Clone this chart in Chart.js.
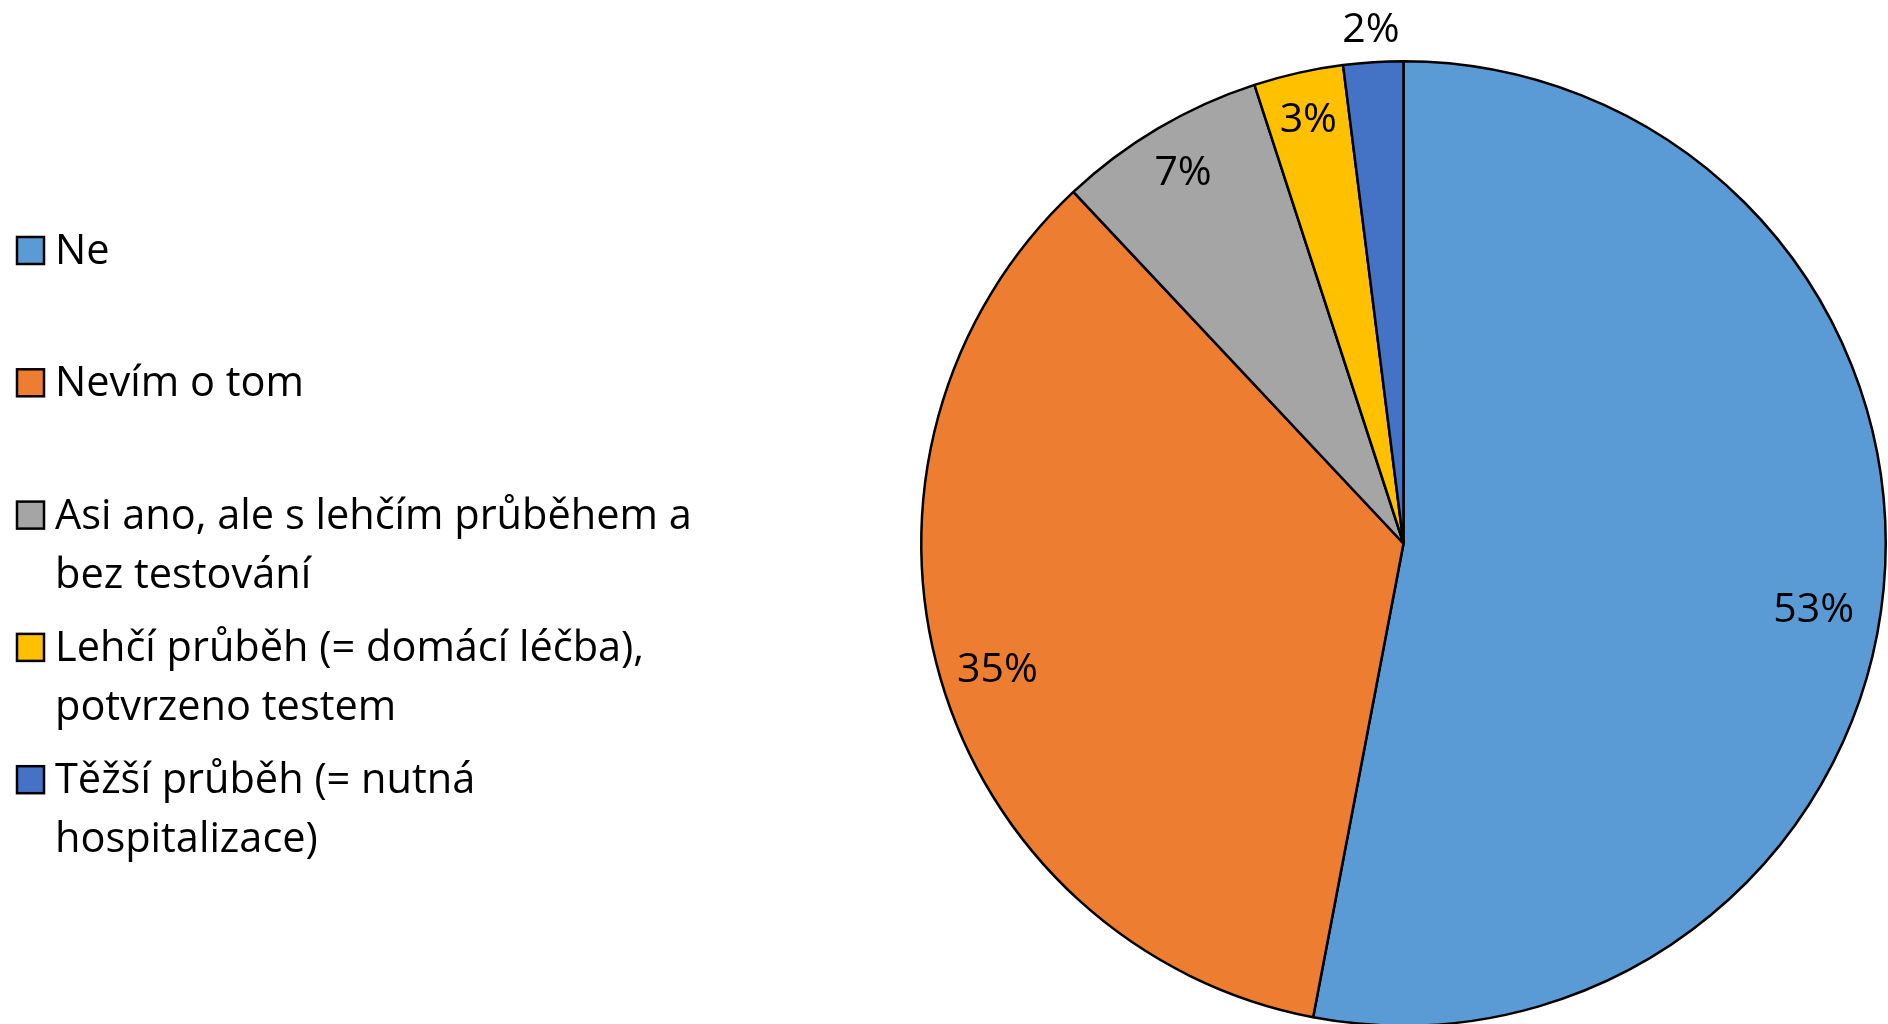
<!DOCTYPE html>
<html lang="cs">
<head>
<meta charset="utf-8">
<script src="https://cdn.jsdelivr.net/npm/chart.js@4.4.1/dist/chart.umd.min.js"></script>
<style>
    html, body { margin: 0; padding: 0; background: #ffffff; overflow: hidden; }
    #wrap { position: relative; width: 1888px; height: 1040px; }
</style>
</head>
<body>
<div id="wrap"><canvas id="pieChart"></canvas></div>
<script>
        // Data
        const categories = [
            ['Ne'],
            ['Nevím o tom'],
            ['Asi ano, ale s lehčím průběhem a', 'bez testování'],
            ['Lehčí průběh (= domácí léčba),', 'potvrzeno testem'],
            ['Těžší průběh (= nutná', 'hospitalizace)']
        ];
        const shares = [53, 35, 7, 3, 2];
        const shareLabels = ['53%', '35%', '7%', '3%', '2%'];

        // Styles
        const sliceColors = ['#5B9BD5', '#ED7D31', '#A5A5A5', '#FFC000', '#4472C4'];
        const fontFamily = '"Open Sans", Lato, sans-serif';
        // radial position of value labels (fraction of radius) and angle nudge (deg)
        const labelRadius = [0.861, 0.880, 0.898, 0.905, 1.073];
        const labelNudge = [3.5, -0.7, 0, 0, 0];

        // Value labels drawn on top of the arcs
        const valueLabels = {
            id: 'valueLabels',
            afterDatasetsDraw(chart) {
                const ctx = chart.ctx;
                const size = 41;
                ctx.save();
                ctx.font = size + 'px ' + fontFamily;
                ctx.fillStyle = '#000000';
                ctx.textAlign = 'center';
                ctx.textBaseline = 'alphabetic';
                chart.getDatasetMeta(0).data.forEach((arc, i) => {
                    const p = arc.getProps(['x', 'y', 'startAngle', 'endAngle', 'outerRadius'], true);
                    const mid = (p.startAngle + p.endAngle) / 2 + labelNudge[i] * Math.PI / 180;
                    const r = p.outerRadius * labelRadius[i];
                    const x = p.x + Math.cos(mid) * r;
                    const y = p.y + Math.sin(mid) * r;
                    ctx.fillText(shareLabels[i], x, y + size * 0.357);
                });
                ctx.restore();
            }
        };

        // Legend on the left, lines wrapped like the original
        const sideLegend = {
            id: 'sideLegend',
            afterDraw(chart) {
                const ctx = chart.ctx;
                const size = 41.5;
                const firstBaseline = 264;
                const itemStep = 132.3;
                const lineStep = 59;
                ctx.save();
                ctx.font = size + 'px ' + fontFamily;
                ctx.textAlign = 'left';
                ctx.textBaseline = 'alphabetic';
                chart.data.labels.forEach((lines, i) => {
                    const base = firstBaseline + i * itemStep;
                    ctx.fillStyle = chart.data.datasets[0].backgroundColor[i];
                    ctx.fillRect(17, base - 27, 27, 27);
                    ctx.lineWidth = 2.5;
                    ctx.strokeStyle = '#000000';
                    ctx.strokeRect(17, base - 27, 27, 27);
                    ctx.fillStyle = '#000000';
                    lines.forEach((line, j) => {
                        ctx.fillText(line, 55, base + j * lineStep);
                    });
                });
                ctx.restore();
            }
        };

        const pieCtx = document.getElementById('pieChart').getContext('2d');
        const pieChart = new Chart(pieCtx, {
            type: 'pie',
            data: {
                labels: categories,
                datasets: [{
                    data: shares,
                    backgroundColor: sliceColors,
                    borderColor: '#000000',
                    borderWidth: 2.5
                }]
            },
            options: {
                responsive: true,
                maintainAspectRatio: false,
                animation: false,
                layout: {
                    padding: { left: 920, right: 1, top: 60, bottom: 13 }
                },
                plugins: {
                    legend: { display: false },
                    tooltip: { enabled: false }
                }
            },
            plugins: [valueLabels, sideLegend]
        });
</script>
</body>
</html>
